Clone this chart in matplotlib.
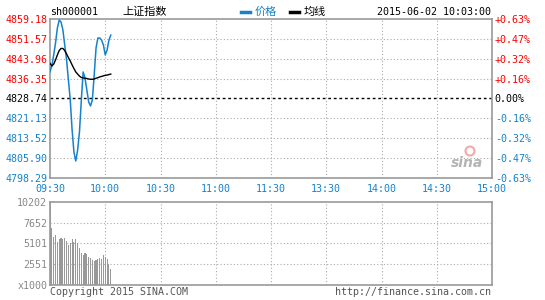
import numpy as np
import matplotlib.pyplot as plt
from matplotlib.lines import Line2D
from matplotlib.patches import Ellipse

# Intraday data for 2015-06-02, minutes after 09:30
minutes = np.arange(0, 34)
price = [4839.0, 4841.2, 4845.4, 4850.0, 4855.7, 4858.8, 4858.0, 4855.0, 4849.2, 4843.5,
         4835.8, 4828.2, 4816.7, 4808.2, 4804.8, 4809.0, 4815.9, 4828.0, 4838.9, 4836.6,
         4832.0, 4827.4, 4825.9, 4828.2, 4837.7, 4848.1, 4851.9, 4851.9, 4851.1, 4849.2,
         4845.4, 4847.3, 4851.1, 4853.0]
avg_price = [4842.2, 4841.2, 4841.9, 4843.5, 4845.4, 4847.1, 4847.9, 4847.9, 4847.1, 4845.8,
             4844.4, 4843.1, 4841.6, 4840.2, 4838.9, 4838.1, 4837.3, 4836.8, 4836.6, 4836.5,
             4836.4, 4836.2, 4836.1, 4836.1, 4836.2, 4836.5, 4836.7, 4837.0, 4837.2, 4837.4,
             4837.6, 4837.7, 4837.9, 4838.1]
volume = [10202, 7020, 5920, 6125, 5270, 5670, 5760, 5670, 5760, 5430,
          4940, 5180, 5635, 5270, 5670, 5145, 4570, 3880, 3710, 3880,
          3760, 3430, 3345, 3025, 2940, 3060, 3150, 3270, 3150, 3640,
          3430, 3185, 2610, 1960]

prev_close = 4828.74
price_ticks = [4798.29, 4805.90, 4813.52, 4821.13, 4828.74, 4836.35, 4843.96, 4851.57, 4859.18]
pct_labels = ['-0.63%', '-0.47%', '-0.32%', '-0.16%', '0.00%', '+0.16%', '+0.32%', '+0.47%', '+0.63%']
time_pos = [0, 30, 60, 90, 120, 150, 180, 210, 240]
time_labels = ['09:30', '10:00', '10:30', '11:00', '11:30', '13:30', '14:00', '14:30', '15:00']
vol_ticks = [0, 2551, 5101, 7652, 10202]
vol_labels = ['x1000', '2551', '5101', '7652', '10202']

RED = '#ff0000'
BLUE = '#1482cc'
GRID = '#aaaaaa'
SPINE = '#999999'
MONO = 'DejaVu Sans Mono'
FS = 7.2

fig = plt.figure(figsize=(5.45, 3.0), dpi=100)
W, H = 545, 300

def box(l, t, r, b):
    return [l / W, 1 - b / H, (r - l) / W, (b - t) / H]

# price panel
ax = fig.add_axes(box(50, 19, 492, 178))
ax.plot(minutes, price, color=BLUE, lw=1.1, zorder=3)
ax.plot(minutes, avg_price, color='black', lw=1.0, zorder=3)
ax.axhline(prev_close, color='black', lw=1.0, ls=(0, (2, 2)), zorder=2)
ax.set_xlim(0, 240)
ax.set_ylim(price_ticks[0], price_ticks[-1])
ax.set_xticks(time_pos)
ax.set_xticklabels(time_labels, family=MONO, fontsize=FS, color=BLUE)
ax.set_yticks(price_ticks)
ax.set_yticklabels(['%.2f' % p for p in price_ticks], family=MONO, fontsize=FS)
for lab, p in zip(ax.get_yticklabels(), price_ticks):
    lab.set_color(RED if p > prev_close else ('black' if p == prev_close else BLUE))
ax.tick_params(length=0, pad=2)
ax.tick_params(axis='x', pad=4)
for v in time_pos[1:-1]:
    ax.axvline(v, color=GRID, lw=0.8, ls=(0, (1, 2)), zorder=1)
for p in price_ticks[1:-1]:
    if p != prev_close:
        ax.axhline(p, color=GRID, lw=0.8, ls=(0, (1, 2)), zorder=1)
for s in ax.spines.values():
    s.set_color(SPINE)
    s.set_linewidth(1.2)

ax2 = ax.twinx()
ax2.set_ylim(ax.get_ylim())
ax2.set_yticks(price_ticks)
ax2.set_yticklabels(pct_labels, family=MONO, fontsize=FS)
for lab, t in zip(ax2.get_yticklabels(), pct_labels):
    lab.set_color(RED if t.startswith('+') else ('black' if t == '0.00%' else BLUE))
ax2.tick_params(length=0, pad=2)
for s in ax2.spines.values():
    s.set_visible(False)

# watermark
fig.text(467 / W, 1 - 163 / H, 'sina', fontsize=10, fontweight='bold', style='italic',
         color='#b4b4b4', ha='center', va='center')
fig.add_artist(Ellipse((470 / W, 1 - 151 / H), 9 / W, 9 / H, transform=fig.transFigure,
                       facecolor='none', edgecolor='#f4a8a8', lw=1.5))

# volume panel
axv = fig.add_axes(box(50, 201.7, 492, 285))
axv.bar(minutes, volume, width=0.6, color=SPINE, zorder=3)
axv.set_xlim(0, 240)
axv.set_ylim(0, vol_ticks[-1])
axv.set_xticks([])
axv.set_yticks(vol_ticks)
axv.set_yticklabels(vol_labels, family=MONO, fontsize=FS, color='#888888')
axv.tick_params(length=0, pad=2)
for v in time_pos[1:-1]:
    axv.axvline(v, color=GRID, lw=0.8, ls=(0, (1, 2)), zorder=1)
for t in vol_ticks[1:-1]:
    axv.axhline(t, color=GRID, lw=0.8, ls=(0, (1, 2)), zorder=1)
for s in axv.spines.values():
    s.set_color(SPINE)
    s.set_linewidth(1.2)

# header
ty = 1 - 12 / H
cjk = ['Noto Sans CJK SC', 'DejaVu Sans']
fig.text(50 / W, ty, 'sh000001', family=MONO, fontsize=FS, va='center')
fig.text(122 / W, ty, '上证指数', family=cjk, fontsize=8, va='center')
fig.add_artist(Line2D([241 / W, 250 / W], [ty, ty], color=BLUE, lw=2.5))
fig.text(255 / W, ty, '价格', family=cjk, fontsize=8, color=BLUE, va='center')
fig.add_artist(Line2D([290 / W, 299 / W], [ty, ty], color='black', lw=2.5))
fig.text(304 / W, ty, '均线', family=cjk, fontsize=8, va='center')
fig.text(491 / W, ty, '2015-06-02 10:03:00', family=MONO, fontsize=FS, ha='right', va='center')

# footer
fy = 1 - 292 / H
fig.text(50 / W, fy, 'Copyright 2015 SINA.COM', family=MONO, fontsize=FS, color='#555555', va='center')
fig.text(491 / W, fy, 'http://finance.sina.com.cn', family=MONO, fontsize=FS, color='#555555',
         ha='right', va='center')

fig.savefig('out.png', dpi=100)
